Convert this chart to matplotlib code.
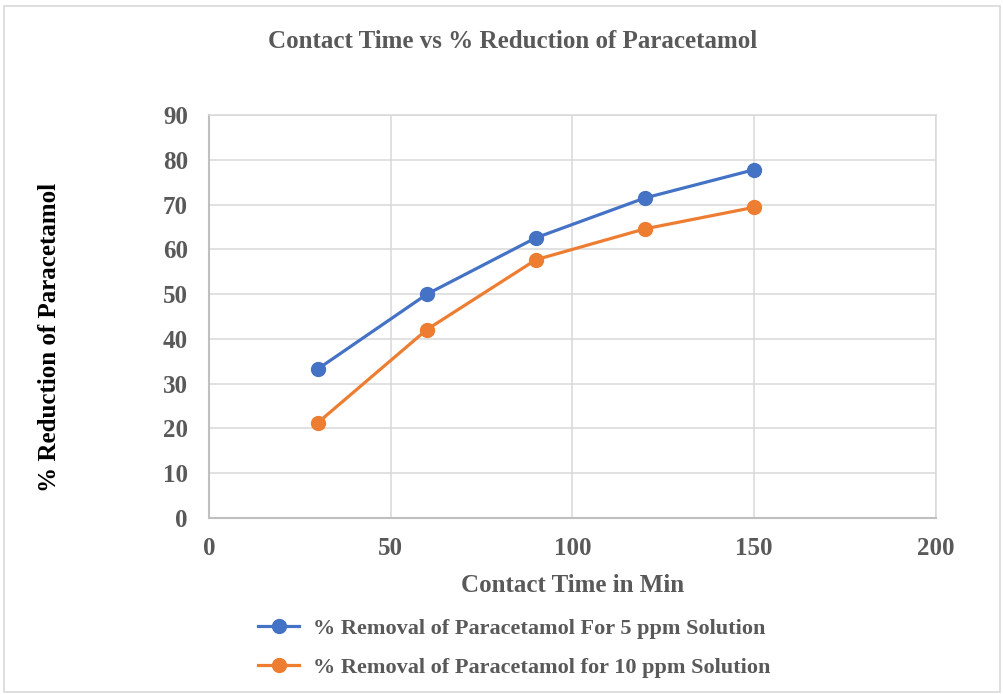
import matplotlib

matplotlib.use("Agg")

import matplotlib.pyplot as plt
from matplotlib.patches import Rectangle

# data
contact_time = [30, 60, 90, 120, 150]
removal_5ppm = [33.3, 50.0, 62.6, 71.5, 77.8]
removal_10ppm = [21.3, 42.1, 57.7, 64.6, 69.4]

x_ticks = [0, 50, 100, 150, 200]
y_ticks = [0, 10, 20, 30, 40, 50, 60, 70, 80, 90]

grey_text = "#595959"
plt.rcParams["font.family"] = ["Liberation Serif", "DejaVu Serif"]
plt.rcParams["font.weight"] = "bold"

fig = plt.figure(figsize=(10.04, 6.94), dpi=100)
ax = fig.add_axes([0.208, 0.2536, 0.724, 0.5805])

ax.plot(contact_time, removal_5ppm, color="#4472C4", lw=2.3, marker="o",
        ms=10, label="% Removal of Paracetamol For 5 ppm Solution", zorder=3)
ax.plot(contact_time, removal_10ppm, color="#ED7D31", lw=2.3, marker="o",
        ms=10, label="% Removal of Paracetamol for 10 ppm Solution", zorder=3)

ax.set_xlim(0, 200)
ax.set_ylim(0, 90)
ax.set_xticks(x_ticks)
ax.set_yticks(y_ticks)
ax.grid(True, color="#d9d9d9", lw=1.1)
ax.set_axisbelow(True)

for side in ["top", "right"]:
    ax.spines[side].set_color("#d9d9d9")
    ax.spines[side].set_linewidth(1.1)
for side in ["left", "bottom"]:
    ax.spines[side].set_color("#bfbfbf")
    ax.spines[side].set_linewidth(1.5)

ax.tick_params(length=0, labelsize=18, labelcolor=grey_text)
ax.tick_params(axis="y", pad=15)
ax.tick_params(axis="x", pad=14)
for lbl in ax.get_xticklabels() + ax.get_yticklabels():
    lbl.set_fontweight("bold")

ax.set_xlabel("Contact Time in Min", fontsize=18, color=grey_text,
              fontweight="bold", labelpad=10)
ax.set_ylabel("% Reduction of Paracetamol", fontsize=18, color="black",
              fontweight="bold")
ax.yaxis.set_label_coords(-0.204, 0.449)

fig.text(0.511, 0.94, "Contact Time vs % Reduction of Paracetamol",
         ha="center", va="center", fontsize=18, color=grey_text,
         fontweight="bold")

leg = fig.legend(loc="center", bbox_to_anchor=(0.512, 0.066), ncol=1,
                 frameon=False, fontsize=16, handlelength=1.85,
                 labelspacing=0.85, handletextpad=0.6)
for t in leg.get_texts():
    t.set_color(grey_text)

# chart border
fig.patches.append(Rectangle((0.004, 0.003), 0.992, 0.988,
                             transform=fig.transFigure, fill=False,
                             edgecolor="#d9d9d9", lw=1.2))

fig.savefig("out.png", dpi=100)
